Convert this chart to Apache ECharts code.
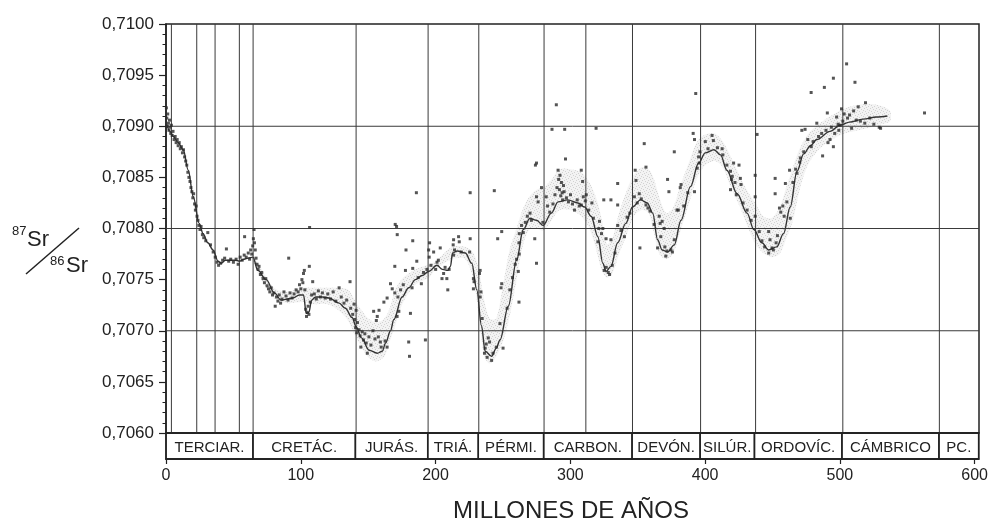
<!DOCTYPE html>
<html>
<head>
<meta charset="utf-8">
<script src="https://cdn.jsdelivr.net/npm/echarts@6/dist/echarts.min.js"></script>
<style>
  html, body { margin: 0; padding: 0; background: #fff; }
  #chart { width: 991px; height: 525px; }
</style>
</head>
<body>
<div id="chart"></div>
<script>
// Phanerozoic seawater 87Sr/86Sr curve (age in Ma)
const curveAge = [0, 3, 5.4, 9, 12.8, 16.5, 20.2, 24.6, 27.5, 31, 34.9, 38.6, 41, 44, 47.2, 51, 54.6, 58, 60.8, 64.5,
  68.1, 74.3, 80.4, 85.4, 90, 94, 99, 102, 104, 106, 108, 111, 116, 121, 128.4, 133, 138, 141, 145, 150.6,
  156.7, 160.4, 162.9, 166.5, 169, 175.1, 180, 185, 190, 194.8, 201, 205, 209, 211, 212.5, 216, 222, 226.8, 230.5, 234,
  236.7, 241.5, 245, 247.7, 253.9, 260, 265, 269.9, 274.8, 279.7, 285.8, 290.8, 298, 305.5, 310.5, 315.3, 320.3, 324, 326.4, 330,
  335, 341, 346, 352, 357, 361, 364.6, 368, 372, 377, 382, 389, 395, 400, 406.4, 411.3, 416, 423.6, 431, 436,
  442, 447, 453, 458, 463, 468, 473, 478, 482.7, 492.5, 500, 507, 517, 527, 535];
const curveSr = [0.70904, 0.70895, 0.70890, 0.70884, 0.70877, 0.70857, 0.70831, 0.70805, 0.70795, 0.70786, 0.70779, 0.70768, 0.70766, 0.70769, 0.70769, 0.70769, 0.70768, 0.70770, 0.70771, 0.70772,
  0.70759, 0.70750, 0.70737, 0.70730, 0.70731, 0.70732, 0.70735, 0.70735, 0.70717, 0.70718, 0.70730, 0.70733, 0.70733, 0.70732, 0.70727, 0.70722, 0.70713, 0.70704, 0.70693, 0.70681,
  0.70678, 0.70680, 0.70688, 0.70700, 0.70711, 0.70733, 0.70742, 0.70750, 0.70754, 0.70758, 0.70764, 0.70760, 0.70759, 0.70763, 0.70776, 0.70778, 0.70776, 0.70766, 0.70740, 0.70705,
  0.70680, 0.70675, 0.70683, 0.70691, 0.70724, 0.70769, 0.70799, 0.70810, 0.70808, 0.70803, 0.70815, 0.70826, 0.70828, 0.70825, 0.70821, 0.70812, 0.70792, 0.70766, 0.70758, 0.70763,
  0.70786, 0.70805, 0.70821, 0.70828, 0.70825, 0.70815, 0.70789, 0.70779, 0.70777, 0.70784, 0.70808, 0.70841, 0.70864, 0.70874, 0.70877, 0.70872, 0.70857, 0.70834, 0.70815, 0.70799,
  0.70786, 0.70779, 0.70782, 0.70795, 0.70821, 0.70856, 0.70873, 0.70881, 0.70887, 0.70895, 0.70901, 0.70904, 0.70907, 0.70909, 0.70910];

// Uncertainty envelope around the curve
const bandAge = [64, 70, 80, 90, 100, 110, 120, 128, 135, 140, 145, 150, 156, 162, 166, 170, 176, 185, 195, 200,
  212, 222, 228, 232, 236, 240, 245, 250, 255, 260, 265, 270, 275, 280, 286, 292, 300, 308, 314, 319,
  323, 327, 331, 336, 342, 347, 353, 358, 362, 366, 371, 376, 381, 388, 394, 400, 407, 413, 419, 426,
  432, 437, 443, 449, 455, 460, 465, 470, 476, 484, 493, 501, 510, 520, 530, 537];
const bandHigh = [0.70775, 0.70762, 0.70742, 0.70738, 0.70742, 0.70742, 0.70742, 0.70742, 0.70740, 0.70730, 0.70720, 0.70712, 0.70708, 0.70712, 0.70722, 0.70740, 0.70752, 0.70760, 0.70765, 0.70768,
  0.70782, 0.70782, 0.70776, 0.70760, 0.70730, 0.70712, 0.70712, 0.70745, 0.70780, 0.70800, 0.70820, 0.70832, 0.70838, 0.70840, 0.70848, 0.70858, 0.70858, 0.70855, 0.70845, 0.70830,
  0.70810, 0.70785, 0.70790, 0.70815, 0.70838, 0.70852, 0.70860, 0.70858, 0.70848, 0.70830, 0.70815, 0.70820, 0.70840, 0.70865, 0.70885, 0.70892, 0.70893, 0.70885, 0.70870, 0.70850,
  0.70835, 0.70825, 0.70812, 0.70810, 0.70820, 0.70840, 0.70860, 0.70878, 0.70892, 0.70902, 0.70910, 0.70916, 0.70920, 0.70922, 0.70920, 0.70915];
const bandLow = [0.70770, 0.70752, 0.70732, 0.70727, 0.70728, 0.70726, 0.70726, 0.70720, 0.70710, 0.70696, 0.70684, 0.70674, 0.70670, 0.70675, 0.70690, 0.70705, 0.70728, 0.70745, 0.70752, 0.70760,
  0.70770, 0.70770, 0.70750, 0.70715, 0.70675, 0.70668, 0.70675, 0.70690, 0.70715, 0.70750, 0.70785, 0.70800, 0.70800, 0.70798, 0.70808, 0.70818, 0.70818, 0.70812, 0.70800, 0.70780,
  0.70760, 0.70752, 0.70756, 0.70775, 0.70795, 0.70812, 0.70818, 0.70815, 0.70795, 0.70775, 0.70770, 0.70775, 0.70795, 0.70825, 0.70850, 0.70862, 0.70866, 0.70860, 0.70840, 0.70820,
  0.70800, 0.70785, 0.70776, 0.70772, 0.70775, 0.70790, 0.70808, 0.70838, 0.70862, 0.70877, 0.70886, 0.70892, 0.70895, 0.70898, 0.70902, 0.70905];

// Individual measurements [age, 87Sr/86Sr]
const samples = [
  [0.3,0.70918],[0.6,0.70908],[1.0,0.70900],[1.3,0.70912],[1.8,0.70903],[2.2,0.70896],[2.6,0.70906],[3.0,0.70899],[3.5,0.70893],[4.0,0.70901],
  [4.6,0.70891],[5.2,0.70895],[6.0,0.70887],[6.8,0.70890],[7.5,0.70884],[8.3,0.70887],[9.0,0.70881],[9.8,0.70884],[10.6,0.70878],[11.4,0.70880],
  [12.2,0.70874],[13.0,0.70877],[13.8,0.70870],[14.6,0.70866],[15.4,0.70862],[16.2,0.70855],[17.0,0.70850],[17.8,0.70846],[18.5,0.70840],[19.2,0.70836],
  [19.9,0.70830],[20.5,0.70834],[21.2,0.70824],[21.8,0.70818],[22.4,0.70822],[23.0,0.70812],[23.7,0.70808],[24.4,0.70803],[25.2,0.70799],[26.0,0.70802],
  [27.0,0.70794],[28.0,0.70791],[29.5,0.70788],[31.0,0.70796],[33.0,0.70784],[35.0,0.70777],[36.5,0.70772],[37.8,0.70767],[39.0,0.70764],[40.5,0.70766],
  [42.0,0.70769],[43.5,0.70771],[44.8,0.70780],[46.5,0.70768],[48.0,0.70770],[50.0,0.70767],[52.0,0.70770],[53.5,0.70765],[55.0,0.70772],[56.5,0.70769],
  [58.3,0.70792],[58.0,0.70774],[59.5,0.70772],[61.0,0.70776],[62.0,0.70770],[62.8,0.70779],[63.6,0.70775],[64.3,0.70783],[64.8,0.70790],[65.3,0.70799],
  [65.6,0.70786],[66.2,0.70779],[66.8,0.70771],[67.5,0.70765],[68.3,0.70760],[69.0,0.70763],
  [70.0,0.70755],[71.0,0.70757],[72.0,0.70751],[73.0,0.70747],[74.0,0.70751],[75.0,0.70744],[76.0,0.70741],[77.0,0.70738],[78.0,0.70742],[79.0,0.70735],
  [80.0,0.70737],[81.0,0.70724],[82.0,0.70733],[83.0,0.70729],[84.0,0.70735],[85.0,0.70727],[86.0,0.70731],[87.5,0.70738],[89.0,0.70734],[90.5,0.70730],
  [91.0,0.70771],[92.0,0.70737],[93.5,0.70732],[95.0,0.70736],[96.5,0.70740],[98.0,0.70738],[99.0,0.70745],[100.0,0.70741],[100.8,0.70750],[101.5,0.70747],
  [102.0,0.70756],[102.6,0.70759],[103.0,0.70740],[103.6,0.70721],[104.2,0.70714],[104.8,0.70718],[105.4,0.70724],[106.0,0.70716],[106.3,0.70763],[106.5,0.70801],
  [107.0,0.70728],[108.0,0.70735],[108.8,0.70748],[110.0,0.70736],[111.5,0.70731],[113.0,0.70739],[114.5,0.70733],[116.0,0.70737],[118.0,0.70732],[120.0,0.70736],
  [122.0,0.70731],[124.0,0.70738],[126.0,0.70729],[128.4,0.70742],[130.0,0.70733],[132.0,0.70727],[134.0,0.70730],[136.5,0.70748],[137.0,0.70722],[138.5,0.70716],
  [139.5,0.70726],[140.0,0.70711],[140.6,0.70703],[141.0,0.70720],[141.5,0.70698],[142.0,0.70708],
  [143.2,0.70701],[144.0,0.70695],[144.5,0.70684],[145.5,0.70699],[146.5,0.70691],[147.5,0.70697],[148.5,0.70688],[149.3,0.70678],[150.5,0.70694],[152.0,0.70686],
  [153.5,0.70700],[154.0,0.70719],[155.0,0.70692],[156.0,0.70710],[156.7,0.70714],[157.5,0.70694],[158.0,0.70720],[159.0,0.70689],[159.6,0.70684],[161.6,0.70728],
  [162.5,0.70690],[164.0,0.70684],[164.0,0.70732],[166.5,0.70746],[167.8,0.70741],[169.7,0.70737],[169.7,0.70763],[170.0,0.70804],[171.0,0.70802],[171.5,0.70794],
  [171.4,0.70714],[172.0,0.70733],[172.7,0.70719],[174.0,0.70740],[176.0,0.70745],[177.6,0.70759],[178.0,0.70779],[180.0,0.70689],[180.6,0.70675],[181.3,0.70717],
  [182.5,0.70742],[183.0,0.70761],[183.0,0.70788],[185.7,0.70835],[186.0,0.70768],[187.0,0.70752],[189.4,0.70746],[191.0,0.70757],[192.4,0.70691],[193.5,0.70760],
  [194.8,0.70779],[195.2,0.70772],[195.5,0.70786],[196.5,0.70764],[198.5,0.70777],[200.0,0.70760],[201.0,0.70767],[202.0,0.70769],[203.4,0.70781],[204.7,0.70751],
  [205.9,0.70756],[207.0,0.70762],[208.3,0.70751],[209.0,0.70740],[210.0,0.70760],[213.3,0.70789],[213.0,0.70784],[213.3,0.70774],[214.0,0.70779],[217.0,0.70792],
  [217.5,0.70787],[219.0,0.70777],[225.6,0.70835],[225.6,0.70790],[225.2,0.70777],[228.0,0.70751],[228.0,0.70741],[228.5,0.70748],
  [233.0,0.70759],[232.5,0.70756],[233.0,0.70733],[233.6,0.70738],[234.5,0.70712],[236.2,0.70678],[236.7,0.70683],[237.5,0.70687],[238.2,0.70674],[239.0,0.70693],
  [240.0,0.70689],[241.5,0.70671],[242.5,0.70678],[243.5,0.70837],[245.0,0.70684],[246.0,0.70790],[247.7,0.70707],[248.5,0.70742],[249.0,0.70746],[249.0,0.70797],
  [250.0,0.70683],[253.0,0.70722],[255.0,0.70740],[257.0,0.70752],[259.0,0.70765],[260.0,0.70770],[261.3,0.70758],[261.8,0.70786],[261.8,0.70728],[262.0,0.70775],
  [262.0,0.70795],[263.7,0.70803],[265.0,0.70796],[266.5,0.70806],[268.0,0.70812],[270.0,0.70815],[271.0,0.70808],[273.5,0.70790],[274.0,0.70862],[274.8,0.70864],
  [274.8,0.70831],[274.8,0.70766],[276.0,0.70826],[278.5,0.70840],[279.5,0.70806],
  [282.0,0.70831],[283.0,0.70822],[284.6,0.70816],[286.3,0.70897],[287.0,0.70824],[288.5,0.70833],[289.5,0.70921],[290.0,0.70840],[290.8,0.70857],[291.2,0.70848],
  [291.8,0.70838],[292.2,0.70852],[292.8,0.70832],[293.3,0.70845],[293.8,0.70835],[294.2,0.70828],[294.8,0.70842],[295.3,0.70836],[295.7,0.70897],[296.3,0.70868],
  [297.0,0.70830],[298.5,0.70826],[300.0,0.70833],[301.5,0.70824],[303.0,0.70818],[305.0,0.70828],[306.5,0.70822],[308.0,0.70857],[308.0,0.70823],[309.0,0.70846],
  [309.5,0.70831],[311.0,0.70827],[311.7,0.70833],[313.5,0.70818],[315.9,0.70825],[317.0,0.70810],[319.0,0.70898],[320.3,0.70787],[321.0,0.70800],[321.5,0.70807],
  [323.0,0.70795],[324.0,0.70800],[324.7,0.70828],[325.0,0.70759],[326.4,0.70790],[326.5,0.70762],[328.0,0.70757],[329.0,0.70755],[330.0,0.70828],[330.0,0.70789],
  [331.0,0.70764],[333.0,0.70776],[335.0,0.70844],[335.0,0.70823],[335.0,0.70803],[337.5,0.70798],[340.0,0.70792],[342.0,0.70811],[344.0,0.70815],
  [347.4,0.70831],[348.0,0.70857],[348.6,0.70847],[349.5,0.70825],[351.0,0.70834],[351.5,0.70781],[352.5,0.70829],[354.7,0.70883],[356.0,0.70860],
  [356.0,0.70823],[357.5,0.70820],[359.0,0.70817],[362.0,0.70804],[364.6,0.70781],[365.8,0.70812],[366.5,0.70805],[367.0,0.70792],[368.0,0.70807],[369.5,0.70800],
  [370.0,0.70782],[370.7,0.70773],[371.5,0.70778],[372.0,0.70848],[373.0,0.70836],[374.5,0.70779],[375.6,0.70777],[377.0,0.70875],[377.0,0.70789],[379.0,0.70818],
  [380.0,0.70818],[381.4,0.70840],[382.0,0.70843],[384.0,0.70822],[387.0,0.70835],[391.0,0.70893],[392.0,0.70887],[392.0,0.70836],[392.9,0.70932],[394.0,0.70859],
  [395.0,0.70870],[395.5,0.70864],[396.0,0.70875],
  [400.0,0.70885],[402.0,0.70878],[405.0,0.70891],[406.0,0.70886],[409.0,0.70879],[412.5,0.70878],[413.0,0.70872],[416.0,0.70862],[418.7,0.70856],[418.7,0.70838],
  [419.5,0.70848],[420.0,0.70851],[421.0,0.70864],[422.0,0.70845],[423.0,0.70833],[425.0,0.70862],[426.0,0.70849],[426.5,0.70843],[428.0,0.70825],[431.0,0.70818],
  [434.0,0.70808],[437.0,0.70852],[437.0,0.70831],[437.0,0.70812],[438.4,0.70892],
  [440.0,0.70797],[442.0,0.70788],[444.0,0.70782],[447.0,0.70797],[447.0,0.70776],[448.0,0.70789],[449.5,0.70781],[450.5,0.70779],[451.8,0.70849],[451.8,0.70834],
  [452.5,0.70786],[453.5,0.70793],[455.0,0.70820],[456.0,0.70816],[457.5,0.70822],[458.5,0.70812],[459.4,0.70844],[460.5,0.70826],[462.5,0.70857],[463.0,0.70810],
  [465.0,0.70845],[467.0,0.70858],[468.0,0.70854],[470.0,0.70865],[470.5,0.70869],[471.6,0.70896],[473.0,0.70875],[474.0,0.70897],[476.0,0.70887],[478.5,0.70933],
  [478.6,0.70880],[480.0,0.70885],[482.7,0.70903],[484.0,0.70890],[486.3,0.70893],[487.0,0.70871],[488.3,0.70938],[489.5,0.70896],[490.5,0.70913],[491.0,0.70884],
  [492.5,0.70887],[493.5,0.70899],[495.0,0.70947],[495.0,0.70880],[496.0,0.70893],[497.4,0.70909],[498.5,0.70902],[499.0,0.70896],[500.0,0.70901],
  [501.0,0.70917],[502.0,0.70905],[503.0,0.70912],[504.8,0.70961],[505.5,0.70908],[507.0,0.70911],[508.5,0.70898],[510.0,0.70915],[511.0,0.70943],[512.0,0.70906],
  [513.4,0.70919],[515.0,0.70905],[518.3,0.70903],[518.8,0.70923],[522.0,0.70908],[525.0,0.70902],[529.0,0.70899],[530.0,0.70898],[562.6,0.70913]
];

// Geological periods shown in the strip under the plot
const periodNames = ['TERCIAR.', 'CRETÁC.', 'JURÁS.', 'TRIÁ.', 'PÉRMI.', 'CARBON.', 'DEVÓN.', 'SILÚR.', 'ORDOVÍC.', 'CÁMBRICO', 'PC.'];
const periodStart = [0, 64.5, 140.5, 194.2, 231.7, 280.2, 345.8, 396.3, 436.6, 501.5, 573.5];
const periodEnd   = [64.5, 140.5, 194.2, 231.7, 280.2, 345.8, 396.3, 436.6, 501.5, 573.5, 603];

// Vertical boundary lines in the plot (epochs of the Tertiary, Carboniferous split, periods)
const boundaryAges = [4, 22.8, 36.4, 54.4, 64.6, 141, 194.4, 232, 280.4, 311.4, 346, 396.5, 437.3, 502, 573.6];
// Horizontal reference lines
const gridSr = [0.707, 0.708, 0.709];

const FONT = '"Liberation Sans", Arial, Helvetica, sans-serif';
const INK = '#222';
const X_MIN = 0, X_MAX = 603, Y_MIN = 0.706, Y_MAX = 0.710;

// light speckled fill for the envelope
function stipple() {
  const c = document.createElement('canvas');
  c.width = 6; c.height = 6;
  const g = c.getContext('2d');
  g.fillStyle = '#f3f3f3';
  g.fillRect(0, 0, 6, 6);
  g.fillStyle = '#d2d2d2';
  [[0, 0], [3, 1], [1, 3], [4, 4], [2, 5], [5, 2]].forEach(p => g.fillRect(p[0], p[1], 1, 1));
  return c;
}
const stippleCanvas = stipple();

const chart = echarts.init(document.getElementById('chart'), null, { renderer: 'canvas' });

// reference lines: kind 0 = vertical at an age, kind 1 = horizontal at a ratio
const refLines = boundaryAges.map(a => [a, 0]).concat(gridSr.map(v => [v, 1]));

const option = {
  animation: false,
  backgroundColor: '#fff',
  grid: [
    { left: 166, top: 24, width: 813, height: 409, show: true, borderColor: INK, borderWidth: 1.5, backgroundColor: 'transparent' },
    { left: 166, top: 433, width: 813, height: 26, show: true, borderColor: INK, borderWidth: 1.5, backgroundColor: 'transparent' }
  ],
  xAxis: [
    { gridIndex: 0, type: 'value', min: X_MIN, max: X_MAX, show: false },
    {
      gridIndex: 1, type: 'value', min: X_MIN, max: X_MAX, interval: 100,
      axisLine: { show: true, lineStyle: { color: INK, width: 1.5 } },
      axisTick: { show: true, length: 5, lineStyle: { color: INK, width: 1.2 } },
      axisLabel: { fontSize: 16, color: INK, fontFamily: FONT, margin: 9, showMaxLabel: false },
      splitLine: { show: false }
    }
  ],
  yAxis: [
    {
      gridIndex: 0, type: 'value', min: Y_MIN, max: Y_MAX, interval: 0.0005,
      axisLine: { show: true, lineStyle: { color: INK, width: 1.5 } },
      axisTick: { show: true, length: 7, lineStyle: { color: INK, width: 1.2 } },
      minorTick: { show: true, splitNumber: 5, length: 3.5, lineStyle: { color: INK, width: 1 } },
      axisLabel: {
        fontSize: 17, color: INK, fontFamily: FONT, margin: 12,
        formatter: v => v.toFixed(4).replace('.', ',')
      },
      splitLine: { show: false }
    },
    { gridIndex: 1, type: 'value', min: 0, max: 1, show: false }
  ],
  series: [
    {
      // envelope
      type: 'custom', xAxisIndex: 0, yAxisIndex: 0, z: 1, silent: true,
      data: [[bandAge[0], bandLow[0]]],
      renderItem: (params, api) => {
        const pts = [];
        for (let i = 0; i < bandAge.length; i++) pts.push(api.coord([bandAge[i], bandHigh[i]]));
        for (let i = bandAge.length - 1; i >= 0; i--) pts.push(api.coord([bandAge[i], bandLow[i]]));
        return {
          type: 'polygon',
          shape: { points: pts, smooth: 0.3 },
          style: { fill: { image: stippleCanvas, repeat: 'repeat' }, stroke: null }
        };
      }
    },
    {
      // boundary and reference lines
      type: 'custom', xAxisIndex: 0, yAxisIndex: 0, z: 2, silent: true,
      dimensions: ['v', 'kind'],
      encode: { x: 0 },
      data: refLines,
      renderItem: (params, api) => {
        const v = api.value(0), kind = api.value(1);
        const a = kind === 0 ? api.coord([v, Y_MIN]) : api.coord([X_MIN, v]);
        const b = kind === 0 ? api.coord([v, Y_MAX]) : api.coord([X_MAX, v]);
        return {
          type: 'line',
          shape: { x1: a[0], y1: a[1], x2: b[0], y2: b[1] },
          style: { stroke: '#3a3a3a', lineWidth: 1 }
        };
      }
    },
    {
      type: 'line', xAxisIndex: 0, yAxisIndex: 0, z: 3,
      data: curveAge.map((a, i) => [a, curveSr[i]]),
      smooth: 0.35, smoothMonotone: 'x', showSymbol: false,
      lineStyle: { color: '#333', width: 1.4 }
    },
    {
      type: 'scatter', xAxisIndex: 0, yAxisIndex: 0, z: 4,
      data: samples, symbol: 'rect', symbolSize: 3,
      itemStyle: { color: '#2a2a2a' }
    },
    {
      // period strip
      type: 'custom', xAxisIndex: 1, yAxisIndex: 1, z: 5, silent: true,
      dimensions: ['start', 'end', 'idx'],
      encode: { x: [0, 1] },
      data: periodStart.map((s, i) => [s, periodEnd[i], i]),
      renderItem: (params, api) => {
        const p0 = api.coord([api.value(0), 1]);
        const p1 = api.coord([api.value(1), 0]);
        return {
          type: 'group',
          children: [
            { type: 'rect', shape: { x: p0[0], y: p0[1], width: p1[0] - p0[0], height: p1[1] - p0[1] },
              style: { fill: null, stroke: INK, lineWidth: 1.5 } },
            { type: 'text',
              style: { text: periodNames[api.value(2)], x: (p0[0] + p1[0]) / 2, y: (p0[1] + p1[1]) / 2 + 1.5,
                align: 'center', verticalAlign: 'middle', fontSize: 15, fontFamily: FONT, fill: INK } }
          ]
        };
      }
    }
  ],
  graphic: [
    { type: 'text', x: 12, y: 225, style: { text: '87', fontSize: 13, fontFamily: FONT, fill: INK, verticalAlign: 'top' } },
    { type: 'text', x: 27, y: 229, style: { text: 'Sr', fontSize: 22, fontFamily: FONT, fill: INK, verticalAlign: 'top' } },
    { type: 'line', shape: { x1: 26, y1: 274, x2: 79, y2: 228 }, style: { stroke: INK, lineWidth: 1.5 } },
    { type: 'text', x: 50, y: 255, style: { text: '86', fontSize: 13, fontFamily: FONT, fill: INK, verticalAlign: 'top' } },
    { type: 'text', x: 66, y: 255, style: { text: 'Sr', fontSize: 22, fontFamily: FONT, fill: INK, verticalAlign: 'top' } },
    { type: 'text', x: 571, y: 511, style: { text: 'MILLONES DE AÑOS', fontSize: 24, fontFamily: FONT, fill: INK, align: 'center', verticalAlign: 'middle' } }
  ]
};

chart.setOption(option);
</script>
</body>
</html>
